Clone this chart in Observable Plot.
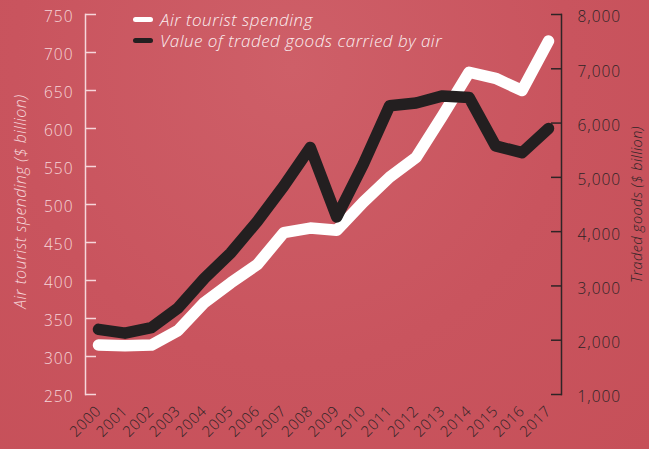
<!DOCTYPE html>
<html>
<head>
<meta charset="utf-8">
<script src="https://cdn.jsdelivr.net/npm/d3@7"></script>
<script src="https://cdn.jsdelivr.net/npm/@observablehq/plot@0.6"></script>
<style>
  html, body { margin: 0; padding: 0; background: #c9535d; }
  #wrap { position: relative; width: 649px; height: 449px; overflow: hidden;
          background: radial-gradient(ellipse at 45% 15%, #ce5f68 0%, #c9545e 55%, #c65059 100%);
          font-family: "Open Sans", sans-serif; }
  #wrap svg { position: absolute; left: 0; top: 0; }
  #wrap svg g[aria-label="y-axis tick label"] text { letter-spacing: 1px; }
  #wrap svg g[aria-label="x-axis tick label"] text { letter-spacing: 0.6px; }
  #wrap svg g[aria-label="text"] text { letter-spacing: 0.4px; }
  .legend { position: absolute; left: 133px; top: 9px; color: #fbeef0; font-style: italic;
            font-size: 17px; font-weight: 300; line-height: 21px; letter-spacing: 0.5px; }
  .legend .row { display: flex; align-items: center; white-space: nowrap; }
  .legend .sw { width: 20px; height: 5px; border-radius: 3px; margin-right: 7px; }
</style>
</head>
<body>
<div id="wrap"></div>
<script>
const years = [2000, 2001, 2002, 2003, 2004, 2005, 2006, 2007, 2008, 2009, 2010, 2011, 2012, 2013, 2014, 2015, 2016, 2017];
const touristSpending = [315, 314, 315, 334, 371, 397, 421, 463, 469, 466, 503, 536, 562, 617, 674, 666, 650, 715];
const tradedGoods = [2200, 2130, 2230, 2590, 3140, 3610, 4190, 4840, 5550, 4270, 5240, 6320, 6370, 6500, 6470, 5580, 5455, 5900];
const leftTicks = [250, 300, 350, 400, 450, 500, 550, 600, 650, 700, 750];
const rightTicks = [1000, 2000, 3000, 4000, 5000, 6000, 7000, 8000];
const seriesNames = ["Air tourist spending", "Value of traded goods carried by air"];
const seriesColors = ["#ffffff", "#231f20"];
const leftTitle = "Air tourist spending ($ billion)";
const rightTitle = "Traded goods ($ billion)";

// right-axis values mapped onto the left-axis scale (1,000 ↔ 250, 8,000 ↔ 750)
const toLeft = d3.scaleLinear([1000, 8000], [250, 750]);
const fmt = d3.format(",");

const lightInk = "#f6d6da";
const darkInk = "#2e2426";
const font = "'Open Sans', sans-serif";

const chart = Plot.plot({
  width: 649,
  height: 449,
  marginLeft: 85,
  marginRight: 88,
  marginTop: 14,
  marginBottom: 55,
  insetLeft: 13,
  insetRight: 13,
  style: { background: "transparent", fontFamily: font, overflow: "visible" },
  x: { type: "linear", domain: [years[0], years[years.length - 1]] },
  y: { domain: [250, 750] },
  marks: [
    Plot.frame({ anchor: "left", stroke: lightInk, strokeWidth: 1.5 }),
    Plot.frame({ anchor: "right", stroke: darkInk, strokeWidth: 1.5 }),
    // left axis ticks (inward) and labels
    Plot.axisY(leftTicks, { anchor: "left", tickSize: -11, fill: "none", stroke: lightInk, strokeWidth: 1.5, label: null }),
    Plot.axisY(leftTicks, { anchor: "left", tickSize: 0, tickPadding: 12, fill: lightInk, fontSize: 15.5, fontWeight: 300, dy: 3, label: null }),
    // right axis ticks (inward) and labels
    Plot.axisY(rightTicks.map(toLeft), { anchor: "right", tickSize: -11, fill: "none", stroke: darkInk, strokeWidth: 1.5, label: null }),
    Plot.axisY(rightTicks.map(toLeft), { anchor: "right", tickSize: 0, tickPadding: 16, fill: darkInk, fontSize: 15.5, fontWeight: 300, dy: 3, label: null,
      tickFormat: (d) => fmt(Math.round(toLeft.invert(d))) }),
    // x axis labels
    Plot.axisX(years, { anchor: "bottom", tickSize: 0, tickPadding: 14, tickRotate: -45, fill: darkInk, fontSize: 15, fontWeight: 300, label: null, tickFormat: (d) => String(d) }),
    // axis titles
    Plot.text([leftTitle], { frameAnchor: "left", textAnchor: "middle", text: (d) => d, rotate: -90, dx: -65, dy: -3, fill: lightInk, fontSize: 16, fontStyle: "italic", fontWeight: 300 }),
    Plot.text([rightTitle], { frameAnchor: "right", textAnchor: "middle", text: (d) => d, rotate: -90, dx: 76, dy: 0, fill: darkInk, fontSize: 14.5, fontStyle: "italic", fontWeight: 300 }),
    // series
    Plot.line(years, { x: (d) => d, y: touristSpending, stroke: seriesColors[0], strokeWidth: 11.5, strokeLinecap: "round", strokeLinejoin: "round" }),
    Plot.line(years, { x: (d) => d, y: tradedGoods.map(toLeft), stroke: seriesColors[1], strokeWidth: 11.5, strokeLinecap: "round", strokeLinejoin: "round" })
  ]
});

const wrap = document.getElementById("wrap");
wrap.appendChild(chart);

const legend = document.createElement("div");
legend.className = "legend";
seriesNames.forEach((name, i) => {
  const row = document.createElement("div");
  row.className = "row";
  const sw = document.createElement("span");
  sw.className = "sw";
  sw.style.background = seriesColors[i];
  const label = document.createElement("span");
  label.textContent = name;
  row.appendChild(sw);
  row.appendChild(label);
  legend.appendChild(row);
});
wrap.appendChild(legend);
</script>
</body>
</html>
